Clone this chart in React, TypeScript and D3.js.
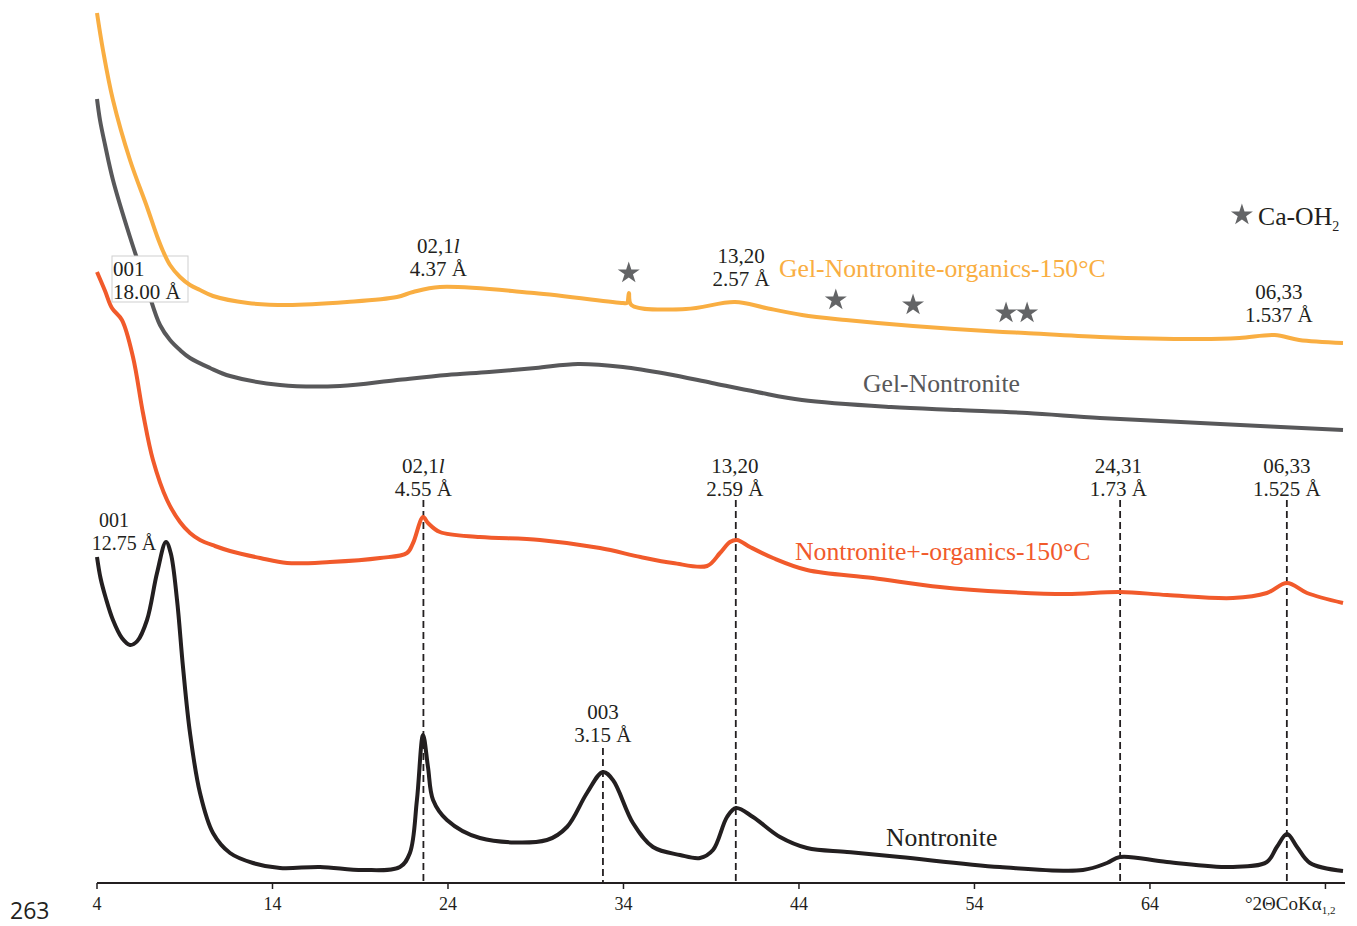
import React from "react";
import * as d3 from "d3";

// [°2θ, intensity (arb. units)]
const nontronite: [number, number][] = [
  [4.0, 326], [4.2, 305], [4.5, 285], [4.91, 263], [5.42, 245], [5.88, 238], [6.3, 242], [6.85, 263],
  [7.42, 310], [7.93, 341], [8.2, 330], [8.56, 283], [8.9, 216], [9.3, 150], [9.87, 90],
  [10.61, 50], [11.58, 30], [12.89, 20], [14.43, 15], [16.71, 16], [19.16, 13], [21.26, 16],
  [21.83, 30], [22.23, 83], [22.58, 148], [22.86, 116], [23.15, 83], [23.94, 63], [25.82, 45],
  [29.64, 43], [30.78, 56], [31.92, 90], [32.83, 111], [33.4, 103], [34.54, 60], [35.68, 36],
  [37.22, 28], [38.36, 25], [39.1, 33], [39.9, 66], [40.41, 75], [41.38, 66], [42.92, 46],
  [44.46, 35], [46.74, 31], [49.75, 26], [55.45, 16], [60.18, 13], [61.55, 20], [62.29, 26],
  [64.97, 21], [68.73, 16], [70.66, 21], [71.23, 36], [71.81, 49], [72.38, 36], [73.12, 20],
  [75.0, 12],
];

const nontroniteOrganics: [number, number][] = [
  [4.0, 611], [4.46, 592], [4.85, 575], [5.42, 563], [6.05, 526], [6.62, 470], [7.19, 423],
  [7.99, 383], [8.73, 361], [9.3, 350], [9.87, 343], [10.72, 337], [11.58, 332], [13.3, 325],
  [14.83, 320], [17.28, 321], [20.13, 325], [21.66, 330], [22.01, 340], [22.58, 366],
  [22.86, 360], [23.54, 351], [25.82, 346], [29.24, 343], [32.66, 335], [34.97, 326],
  [36.82, 320], [38.76, 317], [39.5, 330], [40.07, 341], [40.47, 343], [41.21, 336],
  [42.52, 325], [44.46, 313], [48.22, 305], [52.03, 296], [55.85, 291], [59.27, 289],
  [62.29, 291], [64.97, 288], [68.73, 285], [70.66, 290], [71.81, 300], [72.95, 290], [75.0, 280],
];

const gelNontronite: [number, number][] = [
  [4.0, 784], [4.17, 763], [4.46, 738], [4.91, 703], [5.88, 646], [6.85, 595], [7.59, 558],
  [8.16, 543], [8.73, 533], [9.3, 525], [10.44, 515], [11.58, 507], [14.43, 498], [17.85, 497],
  [21.09, 503], [23.94, 508], [26.34, 511], [29.0, 515], [31.41, 519], [33.97, 516],
  [36.5, 509], [39.04, 500], [41.6, 491], [44.17, 483], [49.24, 476], [53.06, 473],
  [57.0, 470], [61.15, 465], [68.0, 459], [75.0, 453],
];

const gelNontroniteOrganics: [number, number][] = [
  [4.0, 870], [4.34, 833], [4.91, 783], [5.88, 723], [6.85, 676], [7.42, 647], [7.76, 632],
  [8.16, 618], [8.73, 606], [9.3, 598], [9.87, 593], [10.61, 587], [12.6, 580], [14.83, 578],
  [18.25, 581], [21.09, 586], [22.01, 591], [23.54, 596], [28.9, 590], [33.97, 580],
  [34.2, 580], [34.31, 590], [34.45, 578], [37.56, 574], [40.35, 581], [42.12, 575],
  [44.17, 568], [46.68, 563], [50.5, 557], [55.62, 551], [56.88, 550], [61.15, 546],
  [66.85, 544], [69.1, 545], [71.1, 548], [72.5, 543], [75.0, 540],
];

// Ca-OH2 star markers [°2θ, intensity]
const stars: [number, number][] = [[34.3, 610], [46.1, 583], [50.5, 578], [55.8, 570], [57.0, 570]];

// dashed reflection guides [°2θ, top intensity]
const guides: [number, number][] = [[22.6, 383], [32.83, 135], [40.4, 383], [62.3, 383], [71.8, 383]];

// peak labels: hkl, d-spacing, °2θ, intensity of the upper line
const peakLabels: { hkl: string; d: string; at: number; y: number; italicL?: boolean }[] = [
  { hkl: "02,1", d: "4.37 Å", at: 23.45, y: 630, italicL: true },
  { hkl: "13,20", d: "2.57 Å", at: 40.7, y: 620 },
  { hkl: "06,33", d: "1.537 Å", at: 71.35, y: 584 },
  { hkl: "02,1", d: "4.55 Å", at: 22.6, y: 410, italicL: true },
  { hkl: "13,20", d: "2.59 Å", at: 40.35, y: 410 },
  { hkl: "24,31", d: "1.73 Å", at: 62.2, y: 410 },
  { hkl: "06,33", d: "1.525 Å", at: 71.8, y: 410 },
  { hkl: "003", d: "3.15 Å", at: 32.83, y: 164 },
];

const xTicks = [4, 14, 24, 34, 44, 54, 64, 74];
const xTickLabels = ["4", "14", "24", "34", "44", "54", "64", ""];

const serif = "'Liberation Serif', 'DejaVu Serif', serif";

export default function App() {
  const x = d3.scaleLinear().domain([4, 75]).range([97, 1343]);
  const y = d3.scaleLinear().domain([0, 870]).range([883, 13]);
  const line = d3
    .line<[number, number]>()
    .x(d => x(d[0]))
    .y(d => y(d[1]))
    .curve(d3.curveCatmullRom.alpha(0.5));
  const star = d3.symbol().type(d3.symbolStar).size(150)();

  const orange = "#F9AE42";
  const grey = "#58585A";
  const red = "#F15A2B";
  const black = "#231F20";

  return (
    <svg
      width={1357}
      height={926}
      style={{ position: "absolute", left: 0, top: 0, background: "#fff" }}
      fontFamily={serif}
    >
      {guides.map(([g, top], i) => (
        <line
          key={i}
          x1={x(g)}
          x2={x(g)}
          y1={y(top)}
          y2={y(0)}
          stroke={black}
          strokeWidth={1.8}
          strokeDasharray="7,4"
        />
      ))}

      <path d={line(gelNontronite) || ""} fill="none" stroke={grey} strokeWidth={4} strokeLinejoin="round" />

      {/* 001 label box sits over the grey trace */}
      <rect x={112} y={256} width={76} height={46} fill="#fff" stroke="#CFCFCF" strokeWidth={1} />
      <text x={113} y={276} fontSize={21} fill={black}>001</text>
      <text x={113} y={299} fontSize={21} fill={black}>18.00 Å</text>

      <path d={line(gelNontroniteOrganics) || ""} fill="none" stroke={orange} strokeWidth={4} strokeLinejoin="round" />
      <path d={line(nontroniteOrganics) || ""} fill="none" stroke={red} strokeWidth={4} strokeLinejoin="round" />
      <path d={line(nontronite) || ""} fill="none" stroke={black} strokeWidth={4} strokeLinejoin="round" />

      {stars.map(([sx, sy], i) => (
        <path key={i} d={star || ""} transform={`translate(${x(sx)},${y(sy)})`} fill="#636466" />
      ))}

      {/* x axis */}
      <line x1={x(4)} x2={1345} y1={y(0)} y2={y(0)} stroke={black} strokeWidth={2} />
      {xTicks.map((t, i) => (
        <g key={t} transform={`translate(${x(t)},${y(0)})`}>
          <line y1={0} y2={6} stroke={black} strokeWidth={1.5} />
          <text y={27} textAnchor="middle" fontSize={18} fill={black}>
            {xTickLabels[i]}
          </text>
        </g>
      ))}
      <text x={1245} y={910} fontSize={19} fill={black}>
        °2ΘCoKα
        <tspan fontSize={11} dy={4}>1,2</tspan>
      </text>
      <text x={10} y={919} fontSize={23} fontFamily="'Open Sans', 'Noto Sans', sans-serif" fill={black}>
        263
      </text>

      {/* peak labels */}
      {peakLabels.map((p, i) => (
        <g key={i} fontSize={21} fill={black} textAnchor="middle">
          <text x={x(p.at)} y={y(p.y)}>
            {p.hkl}
            {p.italicL ? <tspan fontStyle="italic">l</tspan> : null}
          </text>
          <text x={x(p.at)} y={y(p.y) + 23}>{p.d}</text>
        </g>
      ))}

      <text x={114} y={527} fontSize={20} fill={black} textAnchor="middle">001</text>
      <text x={124} y={550} fontSize={20} fill={black} textAnchor="middle">12.75 Å</text>

      {/* series names */}
      <text x={779} y={277} fontSize={25.7} fill={orange}>Gel-Nontronite-organics-150°C</text>
      <text x={863} y={392} fontSize={25.7} fill={grey}>Gel-Nontronite</text>
      <text x={795} y={560} fontSize={25.7} fill={red}>Nontronite+-organics-150°C</text>
      <text x={886} y={846} fontSize={25.7} fill={black}>Nontronite</text>

      {/* legend */}
      <path d={star || ""} transform={`translate(${x(69.24)},${y(668)})`} fill="#636466" />
      <text x={1258} y={225} fontSize={25.7} fill={black}>
        Ca-OH
        <tspan fontSize={14} dy={6}>2</tspan>
      </text>
    </svg>
  );
}
